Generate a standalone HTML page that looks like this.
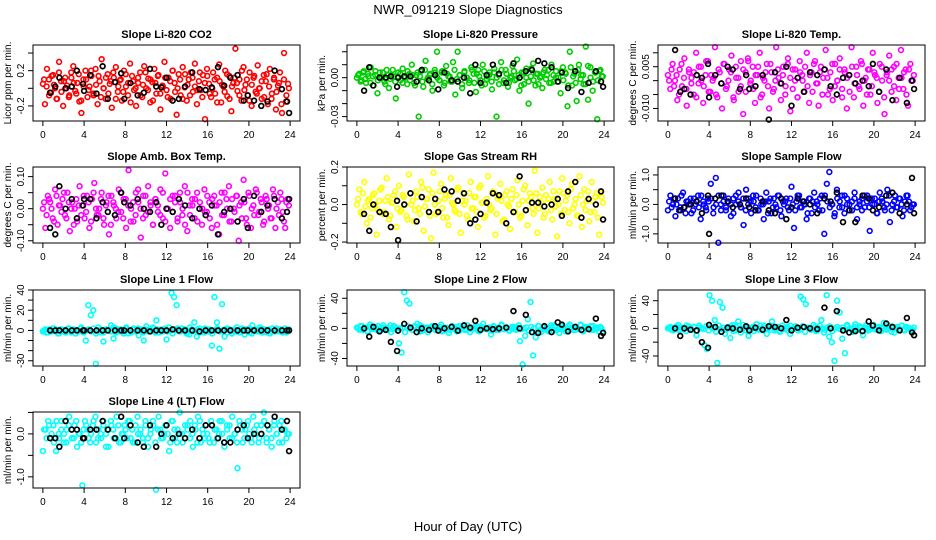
<!DOCTYPE html>
<html><head><meta charset="utf-8">
<style>
html,body{margin:0;padding:0;background:#fff;}
svg{display:block;font-family:"Liberation Sans",Arial,sans-serif;}
</style></head>
<body>
<svg id="chart" width="936" height="540" viewBox="0 0 936 540">
<text x="468" y="14" text-anchor="middle" font-size="13">NWR_091219  Slope Diagnostics</text>
<text x="468" y="531" text-anchor="middle" font-size="13">Hour of Day (UTC)</text>
</svg>
<script>
// ---- data ----
const xTicks = [0,4,8,12,16,20,24];
const titles = ["Slope Li-820 CO2","Slope Li-820 Pressure","Slope Li-820 Temp.","Slope Amb. Box Temp.","Slope Gas Stream RH","Slope Sample Flow","Slope Line 1 Flow","Slope Line 2 Flow","Slope Line 3 Flow","Slope Line 4 (LT) Flow"];
const yLabels = ["Licor ppm per min.","kPa per min.","degrees C per min.","degrees C per min.","percent per min.","ml/min per min.","ml/min per min.","ml/min per min.","ml/min per min.","ml/min per min."];
const colors = ["#ff0000","#00cd00","#ff00ff","#ff00ff","#ffff00","#0000ff","#00ffff","#00ffff","#00ffff","#00ffff"];
const yRanges = [[-0.371,0.491],[-0.0334,0.0252],[-0.0145,0.0128],[-0.107,0.130],[-0.205,0.200],[-1.31,1.27],[-35.2,40],[-50,51],[-54.5,55.5],[-1.26,0.51]];
const yTicks = [[-0.2,0,0.2,0.4],[-0.03,-0.02,-0.01,0,0.01,0.02],[-0.01,-0.005,0,0.005,0.01],[-0.1,-0.05,0,0.05,0.1],[-0.2,-0.1,0,0.1,0.2],[-1,-0.5,0,0.5,1],[-30,-20,-10,0,10,20,30,40],[-40,-20,0,20,40],[-40,-20,0,20,40],[-1,-0.5,0,0.5]];
const yTickLabels = [["-0.2","","0.2",""],["-0.03","","","0.00","",""],["-0.010","","","0.005",""],["-0.10","","0.00","","0.10"],["-0.2","","0.0","","0.2"],["-1.0","","0.0","","1.0"],["-30","","","0","","20","","40"],["-40","","0","","40"],["-40","","0","","40"],["-1.0","","0.0",""]];

const vCO2 = [0.05,-0.18,0.22,0.10,-0.05,0.15,0.00,-0.12,0.30,0.08,-0.20,0.12,0.03,-0.08,0.18,0.25,-0.03,0.06,-0.15,-0.28,0.10,0.20,-0.10,0.02,0.14,-0.06,0.22,-0.18,0.08,0.33,0.00,-0.12,0.16,0.05,-0.22,0.12,0.24,-0.04,0.09,-0.14,0.20,0.02,-0.08,0.28,0.14,-0.02,-0.20,0.06,0.18,-0.10,0.25,0.00,0.11,-0.16,0.07,0.22,-0.06,0.15,-0.24,0.03,0.30,-0.02,0.12,-0.12,0.20,0.06,-0.30,0.16,-0.08,0.24,0.01,-0.14,0.10,0.18,-0.04,0.28,-0.18,0.08,-0.02,0.15,-0.35,0.22,0.05,-0.10,0.18,-0.06,0.12,0.27,-0.16,0.02,0.20,-0.09,0.14,-0.26,0.06,0.45,-0.03,0.10,-0.14,0.24,0.04,-0.08,0.18,-0.20,0.12,-0.04,0.26,0.00,-0.12,0.15,0.08,-0.18,0.22,-0.06,0.10,-0.24,0.03,0.18,-0.28,0.40,-0.15,0.05];
const vPres = [0.000,0.003,-0.002,0.005,-0.004,0.001,0.008,-0.006,0.002,-0.012,0.004,0.000,-0.003,0.006,-0.008,0.002,0.001,-0.016,0.004,-0.002,0.007,0.000,-0.005,0.003,0.010,-0.004,0.002,-0.030,0.005,-0.007,0.013,0.000,0.003,-0.010,0.006,0.020,-0.002,0.004,-0.006,0.009,0.001,-0.003,0.012,-0.013,0.020,0.002,-0.008,0.005,0.000,-0.004,0.008,0.003,-0.011,0.006,-0.002,0.010,-0.005,0.001,0.004,-0.009,0.007,-0.030,0.002,0.012,-0.004,0.006,-0.007,0.000,0.009,-0.002,0.014,-0.010,0.004,-0.005,0.007,-0.020,0.001,0.011,-0.006,0.003,0.000,-0.008,0.006,0.002,-0.004,0.010,-0.003,0.005,0.000,-0.012,0.008,0.004,-0.022,0.020,-0.006,0.003,-0.018,0.010,0.002,-0.005,0.024,-0.017,0.008,-0.010,0.004,-0.032,0.005,0.001];
const vTemp = [0.002,-0.003,0.006,0.000,-0.007,0.004,-0.002,0.008,-0.009,0.003,0.001,-0.005,0.010,-0.001,0.005,-0.008,0.002,0.007,-0.004,0.000,0.012,-0.006,0.003,-0.010,0.006,-0.002,0.004,0.009,-0.007,0.001,-0.004,0.007,-0.012,0.003,0.008,-0.001,0.005,-0.008,0.002,0.010,-0.005,0.000,0.006,-0.010,0.003,-0.003,0.012,0.001,-0.007,0.005,-0.002,0.008,-0.011,0.004,0.000,-0.006,0.007,0.002,-0.004,0.010,-0.008,0.003,0.006,-0.001,-0.009,0.005,0.001,0.011,-0.005,0.003,-0.007,0.006,0.000,0.008,-0.003,0.004,-0.010,0.002,0.012,-0.006,0.005,-0.002,0.007,-0.009,0.001,0.004,-0.005,0.010,0.002,-0.008,0.006,0.000,-0.012,0.003,0.009,-0.004,0.005,-0.007,0.001,0.011,-0.003,0.004,-0.009,0.006,0.000];
const vAmb = [0.00,-0.06,0.04,0.02,-0.03,0.06,-0.05,0.01,0.03,-0.02,0.05,-0.07,0.02,0.00,-0.04,0.07,0.01,-0.03,0.04,-0.06,0.03,0.08,-0.02,0.00,0.05,-0.05,0.02,-0.08,0.04,0.01,-0.03,0.06,-0.01,0.03,-0.06,0.12,0.00,-0.04,0.05,0.02,-0.09,0.04,-0.02,0.07,0.01,-0.05,0.03,-0.01,0.06,-0.03,0.11,0.00,-0.06,0.04,0.02,-0.04,0.05,-0.02,0.07,-0.07,0.01,0.03,-0.03,0.05,0.00,-0.05,0.06,-0.01,0.02,-0.06,0.04,0.01,-0.08,0.05,-0.02,0.03,0.07,-0.04,0.00,0.04,-0.10,0.02,0.09,-0.03,0.05,-0.06,0.01,0.06,-0.02,0.03,-0.05,0.04,0.00,-0.03,0.06,-0.06,0.02,0.05,-0.01,-0.06,0.03];
const vRH = [0.00,0.08,-0.05,0.12,-0.10,0.03,-0.02,0.06,-0.16,0.02,0.09,-0.04,0.14,-0.08,0.01,0.05,-0.12,0.10,-0.03,0.04,-0.06,0.16,0.00,-0.09,0.07,-0.02,0.12,-0.14,0.03,0.08,-0.18,0.17,-0.05,0.02,0.11,-0.07,0.05,-0.11,0.14,0.00,-0.04,0.09,-0.15,0.06,0.02,-0.08,0.12,-0.02,0.04,-0.12,0.10,0.01,-0.06,0.15,-0.03,0.07,-0.16,0.03,0.11,-0.09,0.05,0.00,-0.13,0.08,-0.04,0.13,-0.07,0.02,0.10,-0.11,0.06,-0.02,0.18,-0.15,0.04,0.09,-0.05,0.01,0.12,-0.08,0.03,-0.17,0.07,0.14,-0.03,0.05,-0.10,0.11,0.00,-0.06,0.15,-0.12,0.08,0.02,-0.09,0.12,-0.04,0.06,-0.16,0.04];
const vSamp = [-0.2,0.3,0.0,-0.4,0.2,-0.1,0.4,-0.3,0.1,0.2,-0.2,0.0,0.3,-0.5,0.1,-0.1,0.2,0.7,-0.3,0.9,-1.3,0.0,0.3,-0.2,0.1,-0.4,0.2,0.0,0.4,-0.1,-0.7,0.5,0.2,-0.3,0.1,0.3,-0.2,0.0,-0.5,0.4,0.1,-0.3,0.2,-0.1,0.3,-0.4,0.0,0.2,-0.2,0.6,-0.8,0.1,0.3,-0.1,0.0,-0.5,0.2,-0.3,0.4,0.1,-0.2,0.3,-1.0,0.7,1.1,0.0,-0.4,0.5,-0.1,0.3,-0.3,0.2,0.0,-0.2,0.4,-0.5,0.1,0.2,-0.1,0.3,-0.9,0.0,0.2,-0.3,0.4,0.1,-0.2,0.5,-0.6,0.0,0.3,-0.1,0.2,-0.4,0.1,0.3,-0.2,0.0];
const vL1 = [-1,1,-2,0,2,-1,-3,1,0,-2,2,-1,1,-3,0,2,-1,-10,25,15,20,-33,3,-2,-11,1,0,5,-8,2,-1,1,-3,3,0,-2,2,-1,-5,1,-10,4,-1,0,2,10,-2,1,0,-9,3,37,33,25,-1,2,0,-3,-4,1,8,-6,2,0,-2,1,-1,-15,33,8,-18,26,-6,2,0,-3,1,-1,0,2,-4,1,-2,5,0,-1,3,-2,1,0,-3,2,-1,0,1,-2,2,-1];
const vL2 = [1,-2,3,0,-4,5,-1,2,-3,0,4,-2,1,-5,3,0,-20,-32,48,37,33,-2,3,6,-4,2,0,-5,1,3,-2,0,5,-3,1,-6,2,0,-4,3,1,-2,4,-5,0,2,-3,1,6,-1,0,-8,3,-2,1,4,-1,0,-3,2,-1,1,-17,-48,-10,12,35,-36,-12,3,-5,2,0,-4,1,4,-2,-6,3,0,-3,5,1,-2,0,4,-4,2,-1,3,-2,1,-4,0];
const vL3 = [0,2,-3,1,5,-2,0,-4,3,-1,2,-10,4,0,-24,-30,48,40,12,-50,38,30,-8,2,-14,5,-3,10,-6,0,3,-11,1,-4,6,-2,0,4,-8,2,10,-3,1,-5,4,-1,2,-8,0,3,-3,46,42,35,1,-2,5,-4,0,12,-6,48,-12,-20,-47,40,23,-15,-36,3,0,-5,6,-2,1,-10,4,-3,0,5,-2,2,-4,8,-1,0,3,-6,2,-1,4,-3,1,0,-2];
const vL4 = [-0.4,0.1,0.3,-0.1,0.2,-0.4,0.0,0.3,-0.2,0.1,0.4,-0.1,0.2,-0.3,0.0,-1.2,0.3,0.1,-0.2,0.2,0.4,-0.1,0.0,0.3,-0.3,0.1,0.2,-0.1,0.4,-0.2,0.0,0.2,-0.1,0.3,0.1,-0.2,0.4,0.0,-0.1,0.3,-0.3,0.1,0.2,-1.3,0.4,-0.1,0.0,0.2,-0.4,0.3,0.1,-0.2,0.5,0.0,-0.1,0.2,0.3,-0.3,0.1,0.4,-0.2,0.0,0.2,-0.1,0.3,-0.2,0.1,0.0,0.3,-0.3,0.2,-0.1,0.4,0.0,-0.8,0.2,-0.2,0.1,0.3,-0.1,0.4,0.0,-0.2,0.2,0.5,-0.1,0.1,-0.3,0.3,0.0,0.2,-0.2,0.1,0.0];

// second (core) run of colored points per panel
const wCO2 = [0.10,0.02,-0.08,0.14,0.04,-0.12,0.18,-0.04,0.08,0.00,-0.10,0.12,0.06,-0.06,0.16,-0.14,0.02,0.10,-0.02,0.20,-0.08,0.04,0.14,-0.10,0.00,0.12,-0.06,0.08,0.18,-0.12,0.02,0.10,-0.04,0.16,0.06,-0.16,0.08,0.00,0.12,-0.08,0.04,0.18,-0.02,0.10,-0.14,0.06,0.14,-0.06,0.02,0.12,-0.10,0.08,0.20,-0.04,0.00,0.10,-0.12,0.16,0.04,-0.08,0.12,0.02,-0.02,0.18,-0.10,0.06,0.14,-0.06,0.00,0.10,-0.16,0.08,0.04,-0.04,0.16,-0.12,0.02,0.12,0.06,-0.08,0.20,-0.02,0.10,-0.14,0.04,0.14,-0.06,0.00,0.08,-0.10,0.16,0.02,-0.12,0.12,-0.04,0.06,-0.18,0.10,-0.08,0.00];
const wPres = [0.002,-0.003,0.004,-0.001,0.003,-0.004,0.001,0.005,-0.002,0.000,0.004,-0.005,0.002,-0.001,0.006,-0.003,0.001,0.003,-0.004,0.000,0.005,-0.002,0.002,-0.006,0.004,0.001,-0.003,0.006,-0.001,0.002,-0.005,0.004,0.000,-0.002,0.005,-0.004,0.003,0.001,-0.003,0.006,-0.001,0.002,-0.005,0.004,0.000,-0.002,0.006,-0.004,0.003,0.001,-0.006,0.005,-0.001,0.002,-0.003,0.004,0.000,-0.005,0.006,-0.002,0.003,-0.004,0.001,0.005,-0.001,0.002,-0.006,0.004,0.000,-0.003,0.007,-0.002,0.003,-0.005,0.001,0.004,-0.001,0.006,-0.004,0.002,0.000,-0.003,0.005,-0.002,0.003,-0.006,0.008,0.001,-0.004,0.006,-0.001,0.002,-0.005,0.009,0.000,-0.003,0.004,-0.002,0.006,0.001];
const wTemp = [0.000,0.004,-0.002,0.002,-0.005,0.006,0.001,-0.003,0.004,-0.001,0.003,-0.006,0.005,0.000,-0.002,0.007,-0.004,0.002,0.001,-0.005,0.004,-0.001,0.006,-0.003,0.000,0.003,-0.006,0.005,0.001,-0.002,0.004,-0.004,0.007,0.000,-0.003,0.002,0.005,-0.006,0.001,0.003,-0.002,0.006,-0.004,0.000,0.004,-0.001,0.002,-0.005,0.006,0.001,-0.003,0.004,-0.006,0.003,0.000,0.005,-0.002,0.002,-0.004,0.007,-0.001,0.003,-0.005,0.004,0.001,-0.003,0.006,-0.002,0.000,0.004,-0.006,0.003,0.001,-0.004,0.005,-0.001,0.002,-0.003,0.006,0.000,-0.005,0.004,-0.002,0.003,0.001,-0.004,0.005,-0.006,0.002,0.000,0.004,-0.002,0.006,-0.003,0.001,0.003,-0.005,0.004,0.000,0.002];
const wAmb = [0.02,-0.02,0.03,0.00,-0.04,0.04,0.01,-0.01,0.05,-0.03,0.02,0.00,-0.05,0.03,0.01,-0.02,0.04,-0.01,0.02,-0.04,0.05,0.00,-0.02,0.03,-0.03,0.01,0.04,-0.05,0.02,0.00,-0.01,0.05,-0.03,0.03,0.01,-0.04,0.02,-0.02,0.06,0.00,-0.03,0.04,-0.01,0.02,-0.05,0.03,0.01,-0.02,0.05,-0.04,0.00,0.03,-0.01,0.04,-0.03,0.02,0.00,-0.05,0.05,-0.02,0.01,0.03,-0.04,0.02,0.00,-0.01,0.04,-0.03,0.03,0.01,-0.05,0.02,-0.02,0.05,0.00,-0.04,0.03,-0.01,0.04,0.01,-0.03,0.02,-0.05,0.04,0.00,-0.02,0.05,-0.01,0.02,-0.04,0.03,0.01,-0.03,0.04,0.00,-0.02,0.03,-0.04,0.02,0.01];
const wRH = [0.03,-0.04,0.06,-0.01,0.02,-0.07,0.05,0.00,-0.03,0.08,-0.05,0.02,0.04,-0.06,0.01,0.07,-0.02,-0.04,0.05,0.00,-0.08,0.06,0.02,-0.03,0.04,-0.05,0.09,-0.01,0.03,-0.06,0.06,0.00,-0.04,0.07,-0.02,0.03,-0.07,0.05,0.01,-0.03,0.08,-0.05,0.02,0.00,-0.06,0.06,-0.02,0.04,-0.04,0.09,0.01,-0.07,0.03,0.00,-0.02,0.06,-0.05,0.04,0.02,-0.08,0.07,-0.01,0.03,-0.04,0.05,0.00,-0.06,0.08,-0.03,0.02,0.04,-0.05,0.06,-0.02,0.01,-0.07,0.05,0.03,-0.03,0.07,-0.01,0.00,-0.05,0.06,0.02,-0.04,0.08,-0.02,0.03,-0.06,0.05,0.00,-0.03,0.07,-0.04,0.02,0.04,-0.07,0.06,0.01];
const wSamp = [0.1,-0.1,0.2,0.0,-0.2,0.3,-0.1,0.1,0.0,-0.3,0.2,0.1,-0.1,0.3,0.0,-0.2,0.1,0.2,-0.1,0.0,0.3,-0.2,0.1,-0.1,0.2,0.0,-0.3,0.3,0.1,-0.1,0.2,-0.2,0.0,0.1,0.3,-0.1,-0.2,0.2,0.0,0.1,-0.3,0.2,-0.1,0.0,0.3,-0.2,0.1,0.1,-0.1,0.2,0.0,-0.2,0.3,-0.1,0.1,0.0,-0.3,0.2,0.1,-0.1,0.0,0.2,-0.2,0.3,0.1,-0.1,0.0,-0.3,0.2,0.1,-0.1,0.3,0.0,-0.2,0.1,0.2,-0.1,0.0,-0.2,0.3,0.1,-0.1,0.2,0.0,-0.3,0.1,0.2,-0.1,0.0,0.3,-0.2,0.1,-0.1,0.2,0.0,-0.2,0.3,0.1,-0.1,0.0];
const wL1 = [0,-2,1,-1,2,0,-3,1,-1,0,2,-2,1,0,-1,3,-2,0,1,-1,2,-3,0,1,-2,1,0,-1,3,-2,1,0,-1,2,-3,0,1,-1,2,0,-2,1,-1,0,3,-2,1,0,-1,2,-1,0,-3,1,2,-1,0,1,-2,3,-1,0,1,-2,0,2,-1,1,-3,0,2,-1,0,1,-2,1,0,-1,3,-2,0,1,-1,2,-3,0,1,-1,2,0,-2,1,-1,0,2,-1,1,0,-2,1];
const wL2 = [0,3,-2,1,-4,2,0,-1,3,-3,1,0,-2,4,-1,2,-3,0,1,-5,3,0,-2,2,-1,4,-3,0,1,-2,3,-1,0,2,-4,1,0,-2,3,-1,2,-3,0,4,-2,1,-1,0,3,-4,2,0,-1,1,-3,2,0,-2,5,-1,1,-3,0,2,-2,4,-1,0,1,-3,2,0,-5,3,-1,1,-2,0,4,-3,2,0,-1,1,-4,3,0,-2,2,-1,5,-3,0,1,-2,3,-1,0,2,-4];
const wL3 = [1,-2,0,3,-3,1,-1,4,0,-2,2,-4,1,0,-1,3,-3,2,0,-5,4,-1,1,-2,0,3,-4,2,-1,0,5,-3,1,-2,2,0,-1,4,-3,1,0,-2,3,-1,2,-4,0,1,-3,4,-1,2,0,-2,3,-5,1,0,-1,2,-3,4,0,-2,1,3,-4,0,2,-1,1,-3,5,0,-2,2,-1,3,-4,1,0,-2,4,-1,1,-3,0,2,-2,3,-5,1,0,-1,4,-2,2,0,-3,1];
const wL4 = [0.1,-0.1,0.2,0.0,-0.2,0.3,-0.1,0.1,0.0,-0.2,0.2,0.1,-0.1,0.3,0.0,-0.2,0.1,0.2,-0.1,0.0,0.3,-0.2,0.1,-0.1,0.2,0.0,-0.3,0.3,0.1,-0.1,0.2,-0.2,0.0,0.1,0.3,-0.1,-0.2,0.2,0.0,0.1,-0.2,0.2,-0.1,0.0,0.3,-0.2,0.1,0.1,-0.1,0.2,0.0,-0.2,0.3,-0.1,0.1,0.0,-0.2,0.2,0.1,-0.1,0.0,0.2,-0.2,0.3,0.1,-0.1,0.0,-0.2,0.2,0.1,-0.1,0.3,0.0,-0.2,0.1,0.2,-0.1,0.0,-0.2,0.3,0.1,-0.1,0.2,0.0,-0.2,0.1,0.2,-0.1,0.0,0.3,-0.2,0.1,-0.1,0.2,0.0,-0.2,0.3,0.1,-0.1,0.0];

const bHours = [0.7,1.2,1.6,2.2,2.8,3.3,3.9,4.0,4.6,5.2,5.8,6.3,7.0,7.6,7.9,8.5,9.2,9.8,10.4,11.0,11.5,12.0,12.6,13.2,13.8,14.5,15.2,15.8,16.4,17.0,17.6,18.2,18.9,19.5,19.9,20.5,21.2,21.8,22.5,23.2,23.7,23.9];
const bCO2 = [-0.05,0.02,0.12,0.00,0.02,0.20,0.05,-0.03,0.15,-0.06,0.25,-0.12,0.07,0.17,-0.12,0.06,-0.08,-0.05,0.22,0.02,0.01,0.12,-0.14,-0.12,0.02,0.18,-0.01,-0.02,0.01,0.24,0.03,0.12,0.15,-0.14,-0.08,-0.14,-0.20,-0.15,0.20,-0.01,-0.15,-0.28];
const bPres = [-0.010,0.008,-0.006,0.000,0.000,0.001,-0.007,0.000,0.001,0.001,-0.003,0.006,-0.002,0.002,-0.009,0.004,-0.002,-0.003,0.000,-0.012,0.010,-0.004,0.002,0.010,0.003,-0.004,0.011,0.000,0.005,0.006,0.013,0.011,0.008,-0.003,0.004,-0.008,0.005,-0.011,-0.004,0.005,-0.003,-0.007];
const bTemp = [0.011,-0.004,-0.003,-0.005,0.002,0.001,0.006,-0.006,0.002,-0.001,0.005,0.004,-0.003,0.002,-0.003,-0.002,0.002,-0.014,0.003,-0.001,0.005,-0.009,0.001,-0.004,0.003,0.002,0.004,-0.002,-0.005,0.001,0.002,-0.001,0.000,-0.002,0.006,-0.004,0.004,-0.007,0.001,-0.008,0.000,-0.003];
const bAmb = [-0.06,-0.08,0.07,0.00,0.03,-0.03,0.01,0.03,0.03,-0.03,0.02,-0.01,-0.02,0.05,0.02,0.01,0.03,0.00,-0.01,0.02,-0.05,0.00,-0.01,0.03,0.01,-0.03,0.00,-0.02,0.01,-0.08,-0.01,0.00,-0.04,0.03,-0.06,0.04,-0.01,0.01,0.03,-0.03,-0.01,0.03];
const bRH = [-0.05,-0.14,0.00,-0.04,-0.05,-0.12,0.02,-0.19,0.00,0.06,-0.09,0.04,-0.04,0.03,-0.04,0.08,0.07,0.02,0.06,-0.10,-0.08,-0.05,0.01,0.06,0.05,-0.10,-0.04,0.15,-0.03,0.01,0.01,-0.01,0.00,0.03,-0.06,0.07,0.12,-0.07,0.03,0.00,0.07,-0.08];
const bSamp = [0.2,-0.2,-0.1,0.0,0.1,-0.3,0.3,-1.0,0.2,0.3,0.1,-0.1,0.0,0.2,-0.1,-0.2,0.1,-0.2,-0.3,0.2,-0.5,-0.1,0.2,0.1,0.0,-0.3,0.2,0.1,0.4,-0.6,-0.2,-0.6,0.3,0.2,-0.2,-0.1,0.3,0.4,-0.3,0.0,0.9,-0.3];
const bL1 = [0,0,0,0,0,0,0,0,0,0,0,0,0,0,0,0,0,0,-1,0,0,0,1,0,0,0,-1,0,0,0,0,0,0,0,0,0,0,0,0,0,0,0];
const bL2 = [0,-11,2,-4,-2,-18,-30,-3,6,1,-5,0,-2,3,-3,0,2,-3,4,1,10,-2,0,-1,0,1,23,0,18,-5,-6,3,-5,8,5,-4,2,-2,-1,13,-10,-6];
const bL3 = [0,-11,0,-2,-3,-20,-28,5,2,-5,1,0,-2,3,-3,1,-2,3,2,0,12,-3,1,2,0,-1,30,0,25,-3,-6,-4,-4,10,4,-3,7,2,-3,15,-6,-10];
const bL4 = [-0.1,-0.1,-0.3,0.3,0.1,0.1,-0.1,-0.1,0.1,0.1,0.3,0.1,-0.1,0.4,-0.1,0.2,-0.2,-0.3,0.2,-0.3,0.0,0.2,-0.1,0.0,-0.1,0.1,-0.1,0.2,0.2,-0.1,-0.2,-0.2,0.1,0.2,-0.1,0.0,0.0,0.2,0.4,0.1,0.3,-0.4];

const seriesVals = [vCO2,vPres,vTemp,vAmb,vRH,vSamp,vL1,vL2,vL3,vL4];
const seriesVals2 = [wCO2,wPres,wTemp,wAmb,wRH,wSamp,wL1,wL2,wL3,wL4];
const blackVals = [bCO2,bPres,bTemp,bAmb,bRH,bSamp,bL1,bL2,bL3,bL4];

// ---- layout ----
const colsL = [33,347,658], colW = 267;
const rowsT = [45,167,290,412], rowH = 76;
const NS = "http://www.w3.org/2000/svg";
const svg = document.getElementById('chart');
function mk(tag, attrs, parent){
  const e = document.createElementNS(NS, tag);
  for (const k in attrs) e.setAttribute(k, attrs[k]);
  (parent||svg).appendChild(e); return e;
}
titles.forEach((t, p) => {
  const L = colsL[p%3], T = rowsT[Math.floor(p/3)], R = L+colW, B = T+rowH;
  const [y0,y1] = yRanges[p];
  const xs = h => L + (h + 0.96) / 25.92 * colW;
  const ys = v => B - (v - y0) / (y1 - y0) * rowH;
  const g = mk('g', {});
  
  
  const tt = mk('text', {x:(L+R)/2, y:T-7, 'text-anchor':'middle','font-size':11,'font-weight':'bold'}, g);
  tt.textContent = t;
  
  
  const yl = mk('text', {transform:`translate(${L-22},${(T+B)/2}) rotate(-90)`, 'text-anchor':'middle','font-size':10}, g);
  yl.textContent = yLabels[p];
  
  
  xTicks.forEach(h => {
    const x = xs(h);
    mk('line', {x1:x,x2:x,y1:B,y2:B+5,stroke:'#000','stroke-width':1}, g);
    const lb = mk('text', {x:x, y:B+17,'text-anchor':'middle','font-size':10}, g);
    lb.textContent = h;
    
    
  });
  yTicks[p].forEach((v, i) => {
    const y = ys(v);
    mk('line', {x1:L-5,x2:L,y1:y,y2:y,stroke:'#000','stroke-width':1}, g);
    if (yTickLabels[p][i]) {
      const lb = mk('text', {transform:`translate(${L-9},${y}) rotate(-90)`,'text-anchor':'middle','font-size':10}, g);
      lb.textContent = yTickLabels[p][i];
      
      
    }
  });
  const cg = mk('g', {fill:'none', stroke:colors[p], 'stroke-width':1.6}, g);
  
  
  [seriesVals[p], seriesVals2[p]].forEach((vals, s) => {
    const n = vals.length;
    vals.forEach((v, i) => {
      const h = 24 * (i + 0.5 * s) / n;
      const c = mk('circle', {cx:xs(h), cy:ys(v), r:2.4}, cg);
      
      
    });
  });
  const bg = mk('g', {fill:'none', stroke:'#000', 'stroke-width':1.7}, g);
  
  
  blackVals[p].forEach((v, i) => {
    const c = mk('circle', {cx:xs(bHours[i]), cy:ys(v), r:2.4}, bg);
    
    
  });
  const box = mk('rect', {x:L, y:T, width:colW, height:rowH, fill:'none', stroke:'#000','stroke-width':1}, g);
  
  
});
</script>
</body></html>
